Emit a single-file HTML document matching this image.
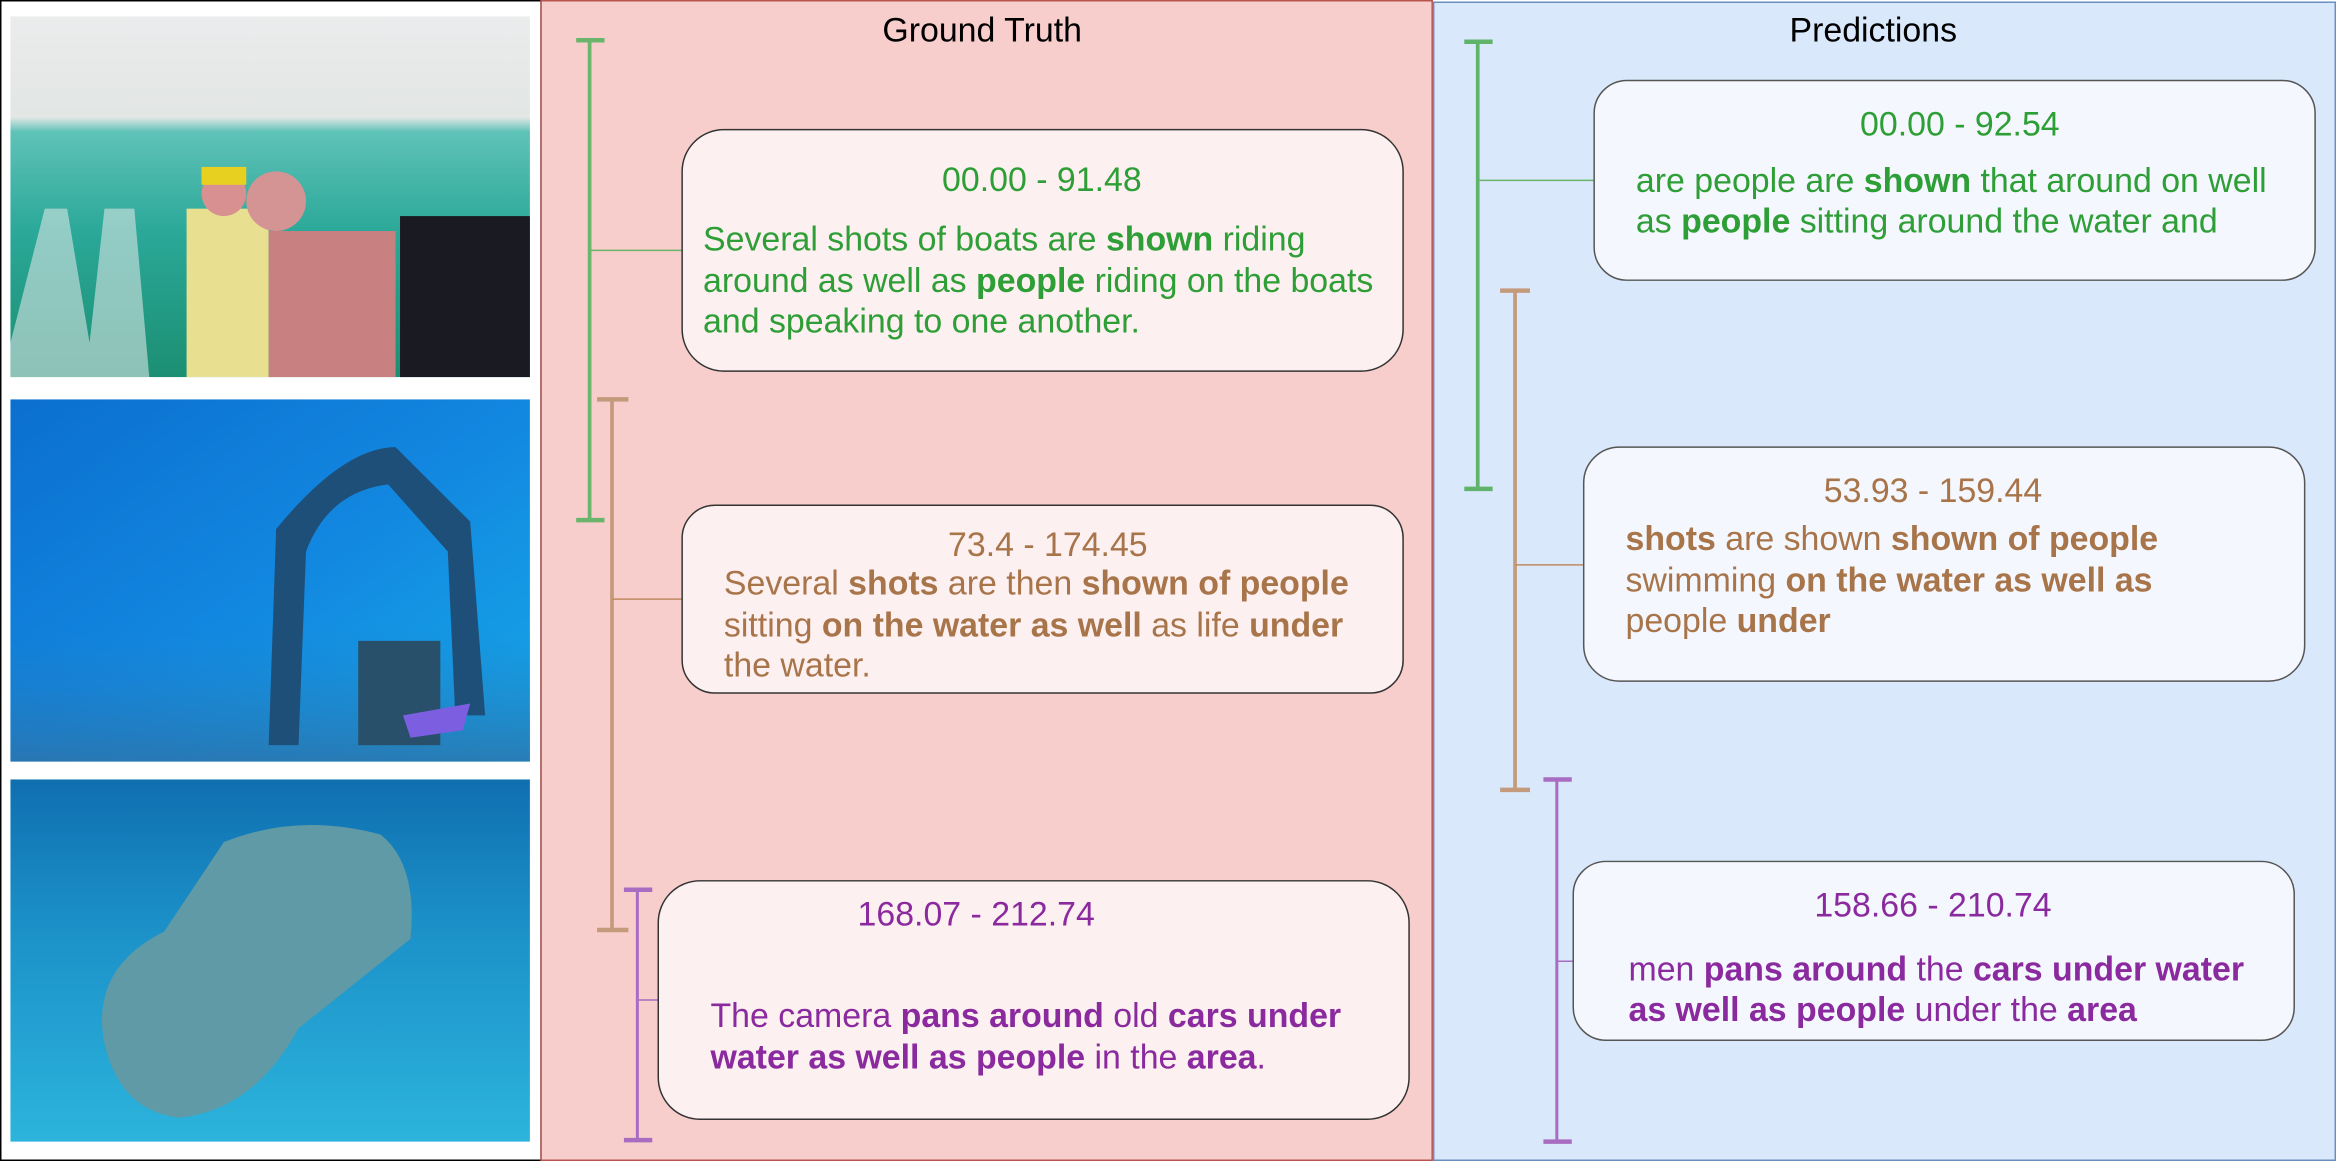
<!DOCTYPE html>
<html><head><meta charset="utf-8"><style>
html,body{margin:0;padding:0;background:#fff;}
svg{display:block;}
text{font-family:"Liberation Sans",sans-serif;font-size:22.7px;}
.g{fill:#2e9e36}.b{fill:#a8744a}.p{fill:#8a2a9e}
.bd{font-weight:bold}
</style></head><body>
<svg width="2336" height="1161" viewBox="0 0 1565 779" preserveAspectRatio="none" xmlns="http://www.w3.org/2000/svg">
<defs>
<linearGradient id="i1" x1="0" y1="0" x2="0" y2="1">
<stop offset="0" stop-color="#ebeced"/><stop offset="0.28" stop-color="#e2e6e4"/><stop offset="0.32" stop-color="#5fc2b8"/><stop offset="0.6" stop-color="#2aa898"/><stop offset="1" stop-color="#1c8f73"/></linearGradient>
<linearGradient id="i2" x1="0" y1="0" x2="1" y2="1">
<stop offset="0" stop-color="#0b6fcf"/><stop offset="0.5" stop-color="#1287e0"/><stop offset="1" stop-color="#16a8e8"/></linearGradient>
<linearGradient id="i2b" x1="0" y1="0" x2="0" y2="1">
<stop offset="0" stop-color="#1d7fc8" stop-opacity="0"/><stop offset="1" stop-color="#2d72a8" stop-opacity="0.8"/></linearGradient>
<linearGradient id="i3" x1="0" y1="0" x2="0" y2="1">
<stop offset="0" stop-color="#0f6fb0"/><stop offset="0.4" stop-color="#1b90c8"/><stop offset="1" stop-color="#2cb4dc"/></linearGradient>
</defs>
<rect x="0.5" y="0.5" width="362" height="778" fill="#fff" stroke="#000" stroke-width="1"/>
<rect x="7" y="11" width="348" height="242" fill="url(#i1)"/>
<polygon points="7,230 30,140 45,140 60,230 70,140 90,140 100,253 7,253" fill="#d8e4e4" opacity="0.6"/>
<rect x="125" y="140" width="55" height="113" fill="#e8e090"/>
<circle cx="150" cy="130" r="15" fill="#d89090"/><rect x="135" y="112" width="30" height="12" fill="#e8d020"/>
<circle cx="185" cy="135" r="20" fill="#d49494"/><rect x="180" y="155" width="85" height="98" fill="#c88080"/>
<rect x="268" y="145" width="87" height="108" fill="#1a1a22"/>
<rect x="7" y="268" width="348" height="243" fill="url(#i2)"/>
<rect x="7" y="420" width="348" height="91" fill="url(#i2b)"/>
<path d="M180,500 L185,355 Q230,300 265,300 L315,350 L325,480 L305,480 L300,370 L260,325 Q220,330 205,370 L200,500 Z" fill="#1d4f78"/>
<rect x="240" y="430" width="55" height="70" fill="#28506a"/><polygon points="270,480 315,472 310,490 275,495" fill="#7b5fe0"/>
<rect x="7" y="523" width="348" height="243" fill="url(#i3)"/>
<path d="M70,700 Q60,650 110,625 L150,565 Q200,545 255,560 Q280,580 275,630 L200,690 Q170,745 120,750 Q80,745 70,700 Z" fill="#5f9aa6"/>
<rect x="362.5" y="0.5" width="597" height="778" fill="#f8cecc" stroke="#b85450" stroke-width="1"/>
<text x="658" y="28" text-anchor="middle" fill="#000">Ground Truth</text>
<rect x="960.5" y="1.5" width="604" height="777" fill="#dae8fc" stroke="#6c8ebf" stroke-width="1"/>
<text x="1255" y="28" text-anchor="middle" fill="#000">Predictions</text>

<g stroke="#6ab56b" stroke-width="2.5" fill="none"><line x1="395" y1="27" x2="395" y2="349"/><line x1="386" y1="27" x2="405" y2="27" stroke-width="3"/><line x1="386" y1="349" x2="405" y2="349" stroke-width="3"/></g>
<line x1="395" y1="168" x2="457" y2="168" stroke="#6ab56b" stroke-width="1"/>
<g stroke="#c49a7c" stroke-width="2.5" fill="none"><line x1="410" y1="268" x2="410" y2="624"/><line x1="400" y1="268" x2="421" y2="268" stroke-width="3"/><line x1="400" y1="624" x2="421" y2="624" stroke-width="3"/></g>
<line x1="410" y1="402" x2="457" y2="402" stroke="#c08a60" stroke-width="1"/>
<g stroke="#a86cc1" stroke-width="2" fill="none"><line x1="427" y1="597" x2="427" y2="765"/><line x1="418" y1="597" x2="437" y2="597" stroke-width="3"/><line x1="418" y1="765" x2="437" y2="765" stroke-width="3"/></g>
<line x1="427" y1="671" x2="441" y2="671" stroke="#a86cc1" stroke-width="1"/>

<rect x="457" y="87" width="483" height="162" rx="28" fill="#fdf0f0" stroke="#333" stroke-width="1"/>
<text x="698" y="128" text-anchor="middle" class="g">00.00 - 91.48</text>
<text x="471" y="168" class="g">Several shots of boats are <tspan class="bd">shown</tspan> riding</text>
<text x="471" y="196" class="g">around as well as <tspan class="bd">people</tspan> riding on the boats</text>
<text x="471" y="223" class="g">and speaking to one another.</text>

<rect x="457" y="339" width="483" height="126" rx="22" fill="#fdf0f0" stroke="#333" stroke-width="1"/>
<text x="702" y="373" text-anchor="middle" class="b">73.4 - 174.45</text>
<text x="485" y="399" class="b">Several <tspan class="bd">shots</tspan> are then <tspan class="bd">shown of people</tspan></text>
<text x="485" y="427" class="b">sitting <tspan class="bd">on the water as well</tspan> as life <tspan class="bd">under</tspan></text>
<text x="485" y="454" class="b">the water.</text>

<rect x="441" y="591" width="503" height="160" rx="28" fill="#fdf0f0" stroke="#333" stroke-width="1"/>
<text x="654" y="621" text-anchor="middle" class="p">168.07 - 212.74</text>
<text x="476" y="689" class="p">The camera <tspan class="bd">pans around</tspan> old <tspan class="bd">cars under</tspan></text>
<text x="476" y="717" class="p"><tspan class="bd">water as well as people</tspan> in the <tspan class="bd">area</tspan>.</text>

<g stroke="#5fb36a" stroke-width="2.5" fill="none"><line x1="990" y1="28" x2="990" y2="328"/><line x1="981" y1="28" x2="1000" y2="28" stroke-width="3"/><line x1="981" y1="328" x2="1000" y2="328" stroke-width="3"/></g>
<line x1="990" y1="121" x2="1068" y2="121" stroke="#6ab56b" stroke-width="1"/>
<g stroke="#c49a7c" stroke-width="2.5" fill="none"><line x1="1015" y1="195" x2="1015" y2="530"/><line x1="1005" y1="195" x2="1025" y2="195" stroke-width="3"/><line x1="1005" y1="530" x2="1025" y2="530" stroke-width="3"/></g>
<line x1="1015" y1="379" x2="1061" y2="379" stroke="#c08a60" stroke-width="1"/>
<g stroke="#a86cc1" stroke-width="2" fill="none"><line x1="1043" y1="523" x2="1043" y2="766"/><line x1="1034" y1="523" x2="1053" y2="523" stroke-width="3"/><line x1="1034" y1="766" x2="1053" y2="766" stroke-width="3"/></g>
<line x1="1043" y1="645" x2="1054" y2="645" stroke="#a86cc1" stroke-width="1"/>

<rect x="1068" y="54" width="483" height="134" rx="22" fill="#f4f7fd" stroke="#555" stroke-width="1"/>
<text x="1313" y="91" text-anchor="middle" class="g">00.00 - 92.54</text>
<text x="1096" y="129" class="g">are people are <tspan class="bd">shown</tspan> that around on well</text>
<text x="1096" y="156" class="g">as <tspan class="bd">people</tspan> sitting around the water and</text>

<rect x="1061" y="300" width="483" height="157" rx="24" fill="#f4f7fd" stroke="#555" stroke-width="1"/>
<text x="1295" y="337" text-anchor="middle" class="b">53.93 - 159.44</text>
<text x="1089" y="369" class="b"><tspan class="bd">shots</tspan> are shown <tspan class="bd">shown of people</tspan></text>
<text x="1089" y="397" class="b">swimming <tspan class="bd">on the water as well as</tspan></text>
<text x="1089" y="424" class="b">people <tspan class="bd">under</tspan></text>

<rect x="1054" y="578" width="483" height="120" rx="22" fill="#f4f7fd" stroke="#555" stroke-width="1"/>
<text x="1295" y="615" text-anchor="middle" class="p">158.66 - 210.74</text>
<text x="1091" y="658" class="p">men <tspan class="bd">pans around</tspan> the <tspan class="bd">cars under water</tspan></text>
<text x="1091" y="685" class="p"><tspan class="bd">as well as people</tspan> under the <tspan class="bd">area</tspan></text>
</svg>
</body></html>
